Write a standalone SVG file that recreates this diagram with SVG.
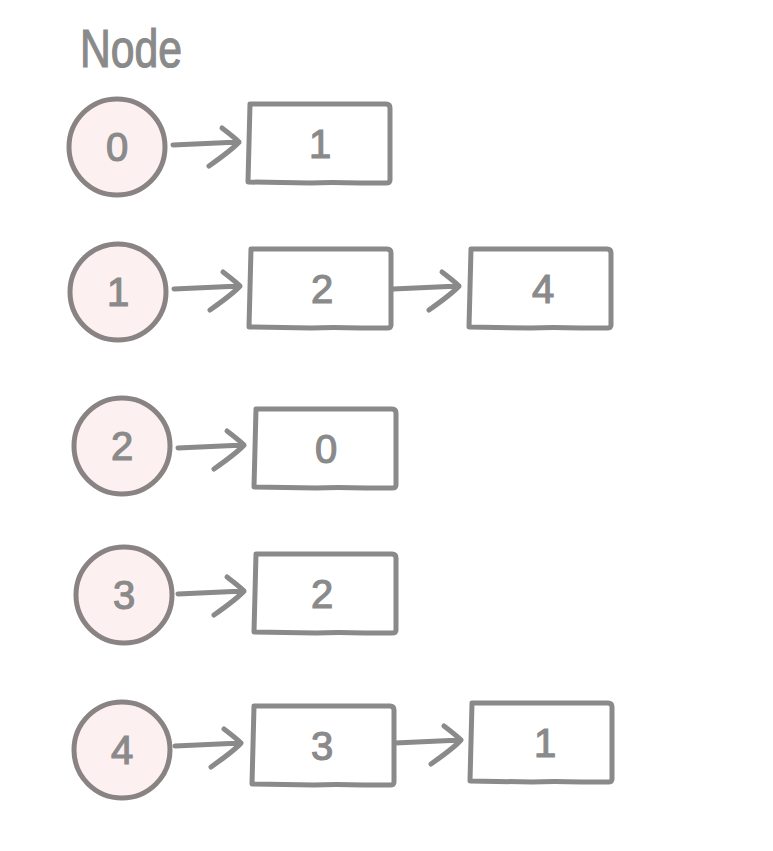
<svg xmlns="http://www.w3.org/2000/svg" width="773" height="851" viewBox="0 0 773 851">
<style>
.c{fill:#fdf0f0;stroke:#8a8383;stroke-width:5}
.b{fill:none;stroke:#8a8a8a;stroke-width:5;stroke-linecap:round;stroke-linejoin:round}
.a{fill:none;stroke:#8a8a8a;stroke-width:5;stroke-linecap:round;stroke-linejoin:round}
.t{font-family:"Liberation Sans","DejaVu Sans",sans-serif;font-size:40px;fill:#8a8a8a;stroke:#8a8a8a;stroke-width:1.2;text-anchor:middle}
.h{font-family:"Liberation Sans","DejaVu Sans",sans-serif;font-size:54px;fill:#8a8a8a;stroke:#8a8a8a;stroke-width:1.2}
</style>
<defs>
<path id="box" d="M0,0 L136,0 Q140,0 140,4 L140,76 Q140,79 136,79 L110,79 Q80,78 60,79 L-2,78 L0,0"/>
<path id="arr" d="M0,3 L66,0 M49,-14 Q62,-4 66,0 Q60,7 36,24"/>
</defs>
<text class="h" x="80" y="67" textLength="102" lengthAdjust="spacingAndGlyphs">Node</text>
<g id="connectors">
<use href="#arr" class="a" x="173" y="142"/>
<use href="#arr" class="a" x="174" y="286"/>
<use href="#arr" class="a" x="393" y="286"/>
<use href="#arr" class="a" x="178" y="445"/>
<use href="#arr" class="a" x="178" y="591"/>
<use href="#arr" class="a" x="175" y="743"/>
<use href="#arr" class="a" x="395" y="740"/>
</g>
<g id="n0"><circle class="c" cx="117" cy="147" r="48"/><text class="t" x="117" y="161">0</text></g>
<g id="n1"><circle class="c" cx="118" cy="292" r="48"/><text class="t" x="118" y="306">1</text></g>
<g id="n2"><circle class="c" cx="122" cy="446" r="48"/><text class="t" x="122" y="460">2</text></g>
<g id="n3"><circle class="c" cx="124" cy="595" r="48"/><text class="t" x="124" y="609">3</text></g>
<g id="n4"><circle class="c" cx="122" cy="750" r="48"/><text class="t" x="122" y="764">4</text></g>
<g id="b0"><use href="#box" class="b" x="250" y="104"/><text class="t" x="320" y="158">1</text></g>
<g id="b1a"><use href="#box" class="b" x="251" y="249"/><text class="t" x="322" y="303">2</text></g>
<g id="b1b"><use href="#box" class="b" x="471" y="249"/><text class="t" x="543" y="303">4</text></g>
<g id="b2"><use href="#box" class="b" x="256" y="409"/><text class="t" x="326" y="463">0</text></g>
<g id="b3"><use href="#box" class="b" x="256" y="554"/><text class="t" x="322" y="608">2</text></g>
<g id="b4a"><use href="#box" class="b" x="254" y="706"/><text class="t" x="322" y="760">3</text></g>
<g id="b4b"><use href="#box" class="b" x="472" y="703"/><text class="t" x="545" y="757">1</text></g>
</svg>
